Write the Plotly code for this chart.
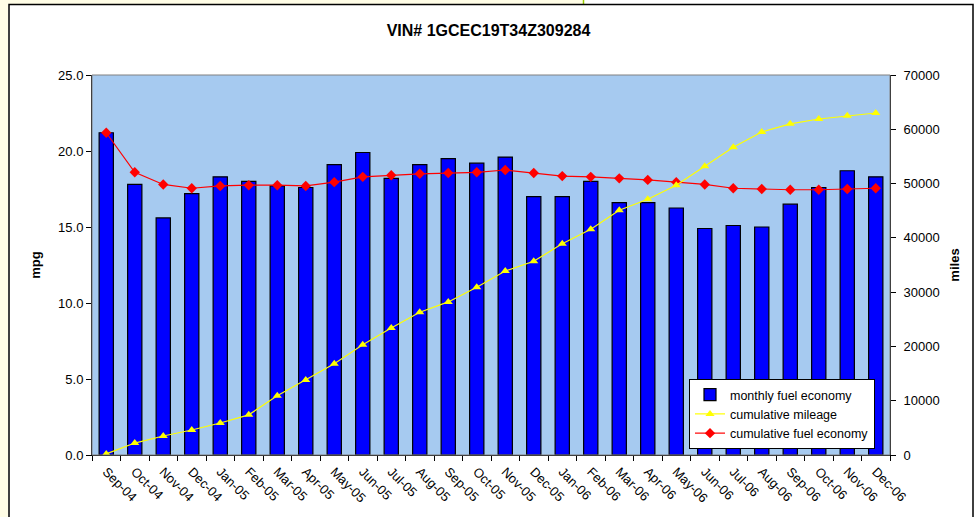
import plotly.graph_objects as go

months = ["Sep-04", "Oct-04", "Nov-04", "Dec-04", "Jan-05", "Feb-05", "Mar-05", "Apr-05",
          "May-05", "Jun-05", "Jul-05", "Aug-05", "Sep-05", "Oct-05", "Nov-05", "Dec-05",
          "Jan-06", "Feb-06", "Mar-06", "Apr-06", "May-06", "Jun-06", "Jul-06", "Aug-06",
          "Sep-06", "Oct-06", "Nov-06", "Dec-06"]

monthly_mpg = [21.2, 17.8, 15.6, 17.2, 18.3, 18.0, 17.7, 17.6,
               19.1, 19.9, 18.2, 19.1, 19.5, 19.2, 19.6, 17.0,
               17.0, 18.0, 16.6, 16.6, 16.25, 14.9, 15.1, 15.0,
               16.5, 17.6, 18.7, 18.3]

cumulative_miles = [200, 2200, 3500, 4600, 5900, 7400, 10900, 13800,
                    16800, 20300, 23400, 26300, 28200, 30900, 33900, 35700,
                    38900, 41600, 45100, 47100, 49700, 53200, 56700, 59500,
                    61000, 61900, 62500, 63000]

cumulative_mpg = [21.2, 18.6, 17.8, 17.55, 17.7, 17.75, 17.75, 17.7,
                  17.95, 18.3, 18.4, 18.5, 18.55, 18.6, 18.75, 18.55,
                  18.35, 18.3, 18.2, 18.1, 17.95, 17.8, 17.55, 17.5,
                  17.45, 17.45, 17.5, 17.55]

FONT = "Liberation Sans, Arial, sans-serif"

fig = go.Figure()
fig.add_trace(go.Bar(
    x=months, y=monthly_mpg, name="monthly fuel economy",
    marker=dict(color="#0000FF", line=dict(color="black", width=1.2)),
    width=0.5,
))
fig.add_trace(go.Scatter(
    x=months, y=cumulative_miles, name="cumulative mileage", yaxis="y2",
    mode="lines+markers",
    line=dict(color="#FFFF00", width=1.2),
    marker=dict(symbol="triangle-up", size=8, color="#FFFF00"),
))
fig.add_trace(go.Scatter(
    x=months, y=cumulative_mpg, name="cumulative fuel economy",
    mode="lines+markers",
    line=dict(color="#FF0000", width=1.2),
    marker=dict(symbol="diamond", size=8, color="#FF0000"),
))

L, R, T, B = 92, 87, 75, 62
PW = 977 - L - R
PH = 517 - T - B

def px(xp):
    return (xp - L) / PW

def py(yp):
    return (517 - B - yp) / PH

shapes = [
    dict(type="rect", xref="paper", yref="paper", x0=px(0), x1=px(8), y0=py(517), y1=py(0),
         fillcolor="#FFFDE6", line=dict(width=0), layer="below"),
    dict(type="rect", xref="paper", yref="paper", x0=px(0), x1=px(583), y0=py(4), y1=py(0),
         fillcolor="#FFFDE6", line=dict(width=0), layer="below"),
    dict(type="line", xref="paper", yref="paper", x0=px(583.5), x1=px(583.5), y0=py(4), y1=py(0),
         line=dict(color="#99CC00", width=1.5)),
    dict(type="rect", xref="paper", yref="paper", x0=px(9), x1=px(973), y0=py(525), y1=py(4.5),
         line=dict(color="black", width=1.5), fillcolor="rgba(0,0,0,0)"),
    dict(type="rect", xref="paper", yref="paper", x0=0, x1=1, y0=0, y1=1,
         line=dict(color="#808080", width=1), fillcolor="rgba(0,0,0,0)"),
]

fig.update_layout(
    width=977, height=517,
    margin=dict(l=L, r=R, t=T, b=B),
    paper_bgcolor="white",
    plot_bgcolor="#A6CAF0",
    font=dict(family=FONT, size=13, color="black"),
    title=dict(text="<b>VIN# 1GCEC19T34Z309284</b>", x=0.5, xanchor="center",
               y=1 - 30 / 517, yanchor="middle", yref="container",
               font=dict(size=16, family=FONT)),
    bargap=0.5,
    showlegend=True,
    legend=dict(x=px(689), y=py(379), xanchor="left", yanchor="top",
                bgcolor="white", bordercolor="black", borderwidth=1,
                font=dict(size=12.5, family=FONT), tracegroupgap=0,
                itemwidth=30),
    xaxis=dict(type="category", tickangle=45, showgrid=False,
               showline=True, linecolor="black", linewidth=1,
               ticks="outside", ticklen=5, tickcolor="black", tickson="boundaries",
               tickfont=dict(size=13), ticklabelstandoff=3, range=[-0.5, 27.5]),
    yaxis=dict(range=[0, 25], dtick=5, tickformat=".1f", showgrid=False,
               showline=True, linecolor="black", linewidth=1,
               ticks="outside", ticklen=5, tickcolor="black", zeroline=False,
               tickfont=dict(size=13),
               title=dict(text="<b>mpg</b>", font=dict(size=13), standoff=14)),
    yaxis2=dict(range=[0, 70000], dtick=10000, tickformat="d", overlaying="y", side="right",
                showgrid=False, showline=True, linecolor="black", linewidth=1,
                ticks="outside", ticklen=5, tickcolor="black", zeroline=False,
                tickfont=dict(size=13), ticklabelstandoff=5,
                title=dict(text="<b>miles</b>", font=dict(size=13), standoff=11)),
    shapes=shapes,
)

fig.write_html("out.html", config={"displayModeBar": False},
               post_script="document.body.style.margin='0';document.body.style.overflow='hidden';")
